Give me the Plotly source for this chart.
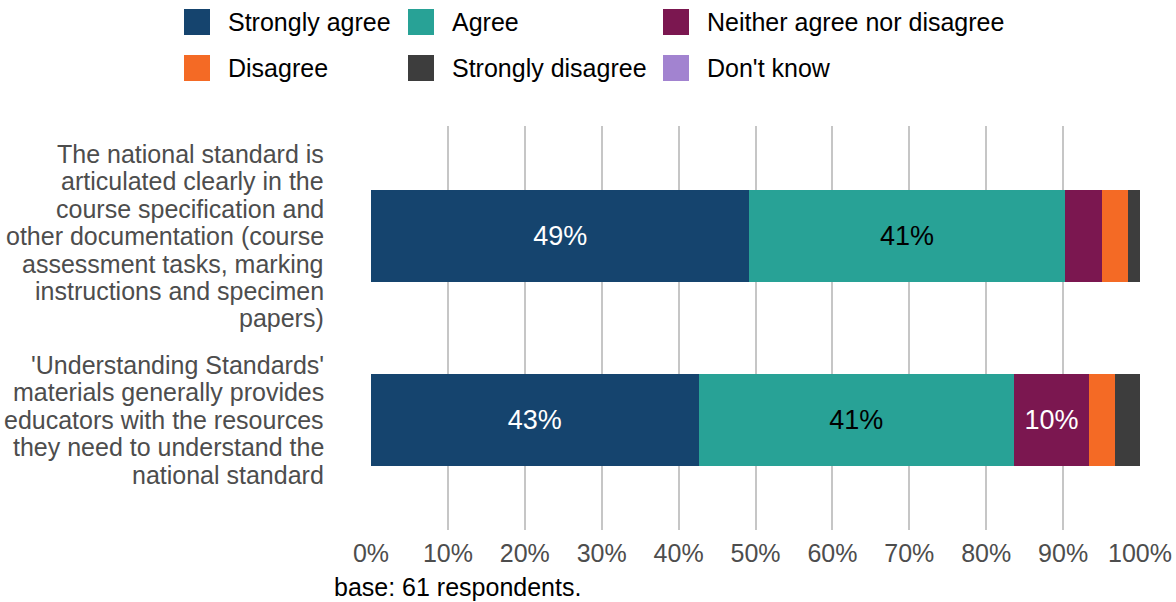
import plotly.graph_objects as go

# Survey statements (line breaks as they appear on the chart)
categories = [
    "The national standard is<br>articulated clearly in the<br>course specification and<br>"
    "other documentation (course<br>assessment tasks, marking<br>instructions and specimen<br>papers)",
    "'Understanding Standards'<br>materials generally provides<br>educators with the resources<br>"
    "they need to understand the<br>national standard",
]

responses = ["Strongly agree", "Agree", "Neither agree nor disagree",
             "Disagree", "Strongly disagree", "Don't know"]

# Share of respondents (%) per statement
strongly_agree = [49.2, 42.6]
agree = [41.0, 41.0]
neither = [4.9, 9.8]
disagree = [3.3, 3.3]
strongly_disagree = [1.6, 3.3]
dont_know = [0.0, 0.0]

x_ticks = [0, 10, 20, 30, 40, 50, 60, 70, 80, 90, 100]
x_tick_labels = ["0%", "10%", "20%", "30%", "40%", "50%",
                 "60%", "70%", "80%", "90%", "100%"]

base_note = "base: 61 respondents."

series = [strongly_agree, agree, neither, disagree, strongly_disagree, dont_know]
colors = ["#15446e", "#28a296", "#7b1750", "#f46a25", "#3d3d3d", "#a283d0"]
text_colors = ["white", "black", "white", "white", "white", "black"]

FONT = "Liberation Sans, Arial, sans-serif"
W, H = 1176, 602
ML, MR, MT, MB = 371, 36, 126, 72
PW, PH = W - ML - MR, H - MT - MB


def px_x(px):
    return (px - ML) / PW


def px_y(py):
    return (H - MB - py) / PH


fig = go.Figure()

for name, vals, col, tcol in zip(responses, series, colors, text_colors):
    labels = [f"{round(v)}%" if v >= 8 else "" for v in vals]
    fig.add_trace(go.Bar(
        y=categories, x=vals, name=name, orientation="h",
        marker=dict(color=col, line=dict(width=0)),
        width=0.5,
        text=labels, textposition="inside", insidetextanchor="middle",
        textangle=0, constraintext="none",
        textfont=dict(family=FONT, size=27, color=tcol),
        showlegend=False, hoverinfo="x+name",
    ))

annotations = []

# Statement labels, one line at a time for tight line spacing
LINE_H = 27.4
for cat in categories:
    lines = cat.split("<br>")
    n = len(lines)
    for i, line in enumerate(lines):
        annotations.append(dict(
            text=line, xref="paper", x=px_x(326), xanchor="right",
            yref="y", y=cat, yanchor="middle",
            yshift=-(i - (n - 1) / 2) * LINE_H,
            showarrow=False,
            font=dict(family=FONT, size=25, color="#4d4d4d"),
        ))

# Legend: three columns, two rows
col_x = [184, 408, 663]
row_y = [22, 68]
SQ = 26
shapes = []
for k, (name, col) in enumerate(zip(responses, colors)):
    cx = col_x[k % 3]
    cy = row_y[k // 3]
    shapes.append(dict(
        type="rect", xref="paper", yref="paper",
        x0=px_x(cx), x1=px_x(cx + SQ),
        y0=px_y(cy + SQ / 2), y1=px_y(cy - SQ / 2),
        fillcolor=col, line=dict(width=0),
    ))
    annotations.append(dict(
        text=name, xref="paper", x=px_x(cx + SQ + 16), xanchor="left",
        yref="paper", y=px_y(cy), yanchor="middle",
        showarrow=False, font=dict(family=FONT, size=25, color="black"),
    ))

annotations.append(dict(
    text=base_note, xref="paper", x=px_x(332), xanchor="left",
    yref="paper", y=px_y(587), yanchor="middle",
    showarrow=False, font=dict(family=FONT, size=25, color="black"),
))

fig.update_layout(
    barmode="stack",
    width=W, height=H,
    margin=dict(l=ML, r=MR, t=MT, b=MB, pad=0, autoexpand=False),
    paper_bgcolor="white", plot_bgcolor="white",
    showlegend=False,
    xaxis=dict(
        range=[0, 100], tickvals=x_ticks, ticktext=x_tick_labels,
        showgrid=True, gridcolor="#c6c6c6", gridwidth=2,
        zeroline=False, showline=False, ticks="",
        ticklabelstandoff=6, automargin=False,
        tickfont=dict(family=FONT, size=25, color="#4d4d4d"),
        fixedrange=True,
    ),
    yaxis=dict(
        type="category", categoryorder="array", categoryarray=categories,
        range=[1.6, -0.6], showticklabels=False, showgrid=False,
        zeroline=False, showline=False, ticks="", fixedrange=True,
        automargin=False,
    ),
    annotations=annotations,
    shapes=shapes,
    font=dict(family=FONT),
)

fig.write_html("out.html")
